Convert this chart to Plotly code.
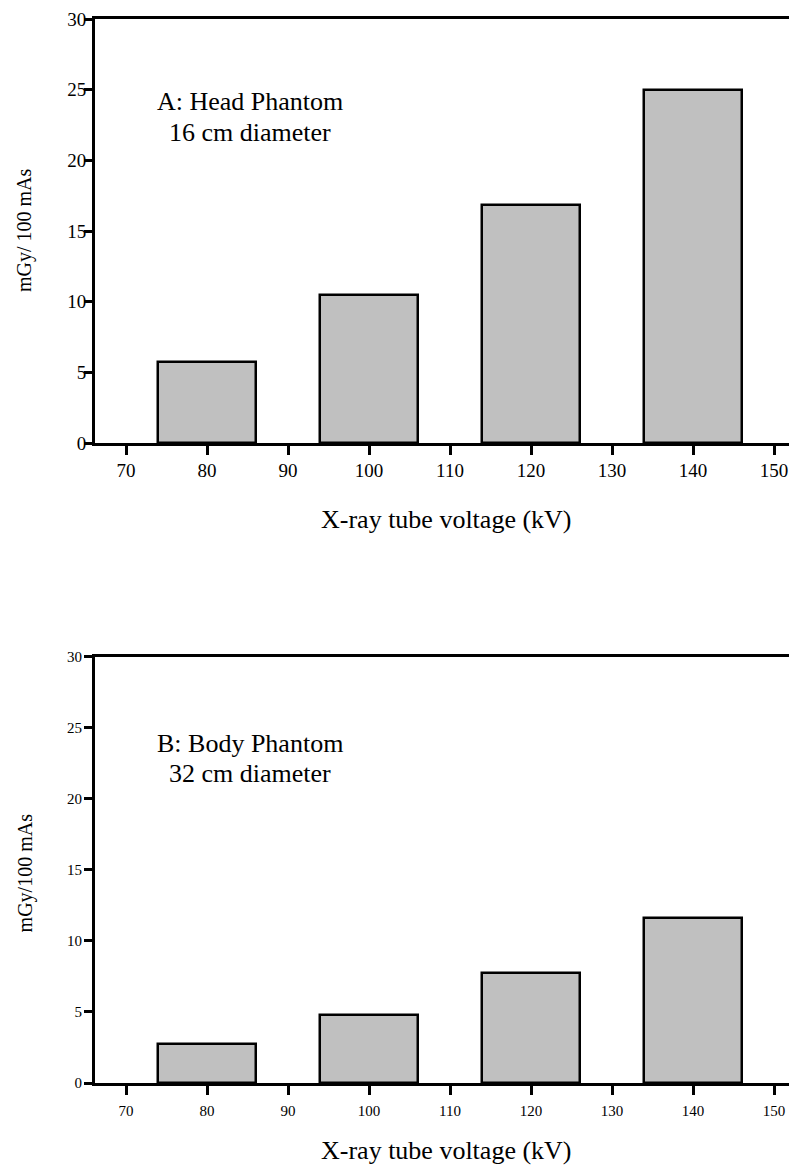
import plotly.graph_objects as go

kv = [80, 100, 120, 140]
head_dose = [5.75, 10.45, 16.85, 25.0]
body_dose = [2.75, 4.8, 7.75, 11.6]
x_ticks = [70, 80, 90, 100, 110, 120, 130, 140, 150]
y_ticks = [0, 5, 10, 15, 20, 25, 30]

FONT = "Liberation Serif, Times New Roman, serif"
fig = go.Figure()
fig.add_trace(go.Bar(x=kv, y=head_dose, width=12, xaxis="x", yaxis="y",
                     marker=dict(color="#c0c0c0", line=dict(color="black", width=2.5)),
                     showlegend=False))
fig.add_trace(go.Bar(x=kv, y=body_dose, width=12, xaxis="x2", yaxis="y2",
                     marker=dict(color="#c0c0c0", line=dict(color="black", width=2.5)),
                     showlegend=False))

xcommon = dict(range=[66.17, 152.84], tickvals=x_ticks, ticks="outside", ticklen=9,
               tickwidth=2.5, tickcolor="black", showline=True, linecolor="black",
               linewidth=3, mirror=True, showgrid=False, zeroline=False, domain=[0, 1],
               automargin=False)
ycommon = dict(range=[0, 30], tickvals=y_ticks, ticks="outside", ticklen=8,
               tickwidth=2.5, tickcolor="black", showline=True, linecolor="black",
               linewidth=3, showgrid=False, zeroline=False, automargin=False)

fig.update_layout(
    width=789, height=1166,
    margin=dict(l=87, r=0, t=11, b=91),
    paper_bgcolor="white", plot_bgcolor="white",
    font=dict(family=FONT, color="black"),
    bargap=0,
    xaxis=dict(**xcommon, anchor="y", tickfont=dict(size=19, family=FONT), ticklabelstandoff=-1),
    yaxis=dict(**ycommon, domain=[0.6015, 1.0], anchor="x", tickfont=dict(size=19, family=FONT), ticklabelstandoff=-6),
    xaxis2=dict(**xcommon, anchor="y2", tickfont=dict(size=15, family=FONT), ticklabelstandoff=3),
    yaxis2=dict(**ycommon, domain=[0.0, 0.4004], anchor="x2", tickfont=dict(size=15, family=FONT), ticklabelstandoff=-1),
)

TXT = dict(showarrow=False, font=dict(size=26, family=FONT), xanchor="center", yanchor="middle")
annots = [
    dict(text="A: Head Phantom", x=85.3, y=24.13, xref="x", yref="y", **TXT),
    dict(text="16 cm diameter", x=85.3, y=21.94, xref="x", yref="y", **TXT),
    dict(text="B: Body Phantom", x=85.3, y=23.94, xref="x2", yref="y2", **TXT),
    dict(text="32 cm diameter", x=85.3, y=21.76, xref="x2", yref="y2", **TXT),
    dict(text="X-ray tube voltage (kV)", x=0.5, y=0.530, xref="paper", yref="paper", **TXT),
    dict(text="X-ray tube voltage (kV)", x=0.5, y=-0.063, xref="paper", yref="paper", **TXT),
    dict(text="mGy/ 100 mAs", x=-0.0997, y=0.8017, xref="paper", yref="paper", textangle=-90,
         showarrow=False, font=dict(size=20, family=FONT), xanchor="center", yanchor="middle"),
    dict(text="mGy/100 mAs", x=-0.0997, y=0.197, xref="paper", yref="paper", textangle=-90,
         showarrow=False, font=dict(size=20, family=FONT), xanchor="center", yanchor="middle"),
]
fig.update_layout(annotations=annots)

fig.write_html("out.html")
